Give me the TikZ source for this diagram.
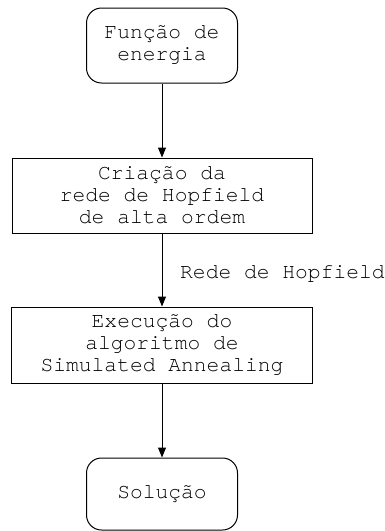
\documentclass[tikz,border=0pt]{standalone}
\usepackage{fontspec}
\newfontfamily\cour[Ligatures=NoCommon]{TeX Gyre Cursor}
\usetikzlibrary{arrows.meta}
\begin{document}
\begin{tikzpicture}[x=1pt,y=-1pt,
  base/.style={draw=black,line width=1pt,align=center,inner sep=0pt,
    font=\cour\fontsize{21.3}{22}\selectfont},
  term/.style={base,rounded corners=15pt},
  proc/.style={base},
  conn/.style={line width=1pt,-{Triangle[length=10pt,width=8pt]}},
  lbl/.style={inner sep=0pt,font=\cour\fontsize{21.3}{22}\selectfont}]
\useasboundingbox (0,0) rectangle (385,531);
\node[term,minimum width=151pt,minimum height=75pt] (a) at (162,45.5) {Função de\\energia};
\node[proc,minimum width=300pt,minimum height=75pt] (b) at (162,195.5) {Criação da\\rede de Hopfield\\de alta ordem};
\node[proc,minimum width=301pt,minimum height=76pt] (c) at (162,345) {Execução do\\algoritmo de\\Simulated Annealing};
\node[term,minimum width=151pt,minimum height=72pt] (d) at (162,494) {Solução};
\draw[conn] (a) -- (b);
\draw[conn] (b) -- (c);
\node[lbl,anchor=base west] (l) at (180,278) {Rede de Hopfield};
\draw[conn] (c) -- (d);
\end{tikzpicture}
\end{document}
